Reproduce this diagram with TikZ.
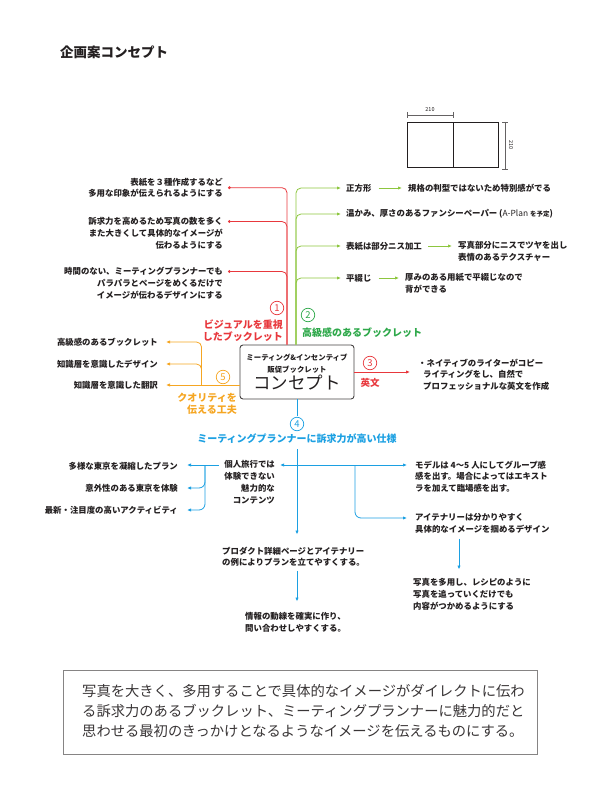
\documentclass[tikz,border=0pt]{standalone}
\usepackage{fontspec}
\setmainfont{Noto Sans CJK JP}
\usetikzlibrary{arrows.meta}
\definecolor{ink}{HTML}{231F20}
\definecolor{redc}{HTML}{E8383D}
\definecolor{greenc}{HTML}{8DC63F}
\definecolor{greent}{HTML}{2EA84A}
\definecolor{bluec}{HTML}{1CA0E2}
\definecolor{orangec}{HTML}{F5A623}
\newcommand{\itemfont}{\fontsize{8.4}{11.8}\selectfont\bfseries}
\newcommand{\labfont}{\fontsize{10}{12}\selectfont\bfseries}

\begin{document}
\begin{tikzpicture}[x=1pt, y=-1pt,
  item/.style={font=\itemfont, text=ink, inner sep=0pt},
  lab/.style={font=\labfont, inner sep=0pt},
  num/.style={circle, draw, line width=0.7pt, inner sep=0pt, minimum size=13.5pt, font=\fontsize{9.5}{9.5}\selectfont},
  conn/.style={line width=0.8pt, rounded corners=5pt},
  dotend/.style={conn, -{Circle[length=2.8pt]}},
  arrend/.style={conn, -{Latex[length=4pt, width=3.4pt]}}]
\useasboundingbox (0,0) rectangle (600,786);
\node[anchor=west, inner sep=0pt, text=ink, font=\fontsize{13.5}{14}\selectfont\bfseries] (title) at (60,52) {企画案コンセプト};

% format sketch
\draw[ink, line width=1pt] (407,123) rectangle (498,168) (453,123) -- (453,168);
\draw[ink!70, line width=0.4pt] (407,115) -- (453,115) (407,112) -- (407,118) (453,112) -- (453,118);
\draw[ink!70, line width=0.4pt] (505,122) -- (505,169) (502,122) -- (508,122) (502,169) -- (508,169);
\node[inner sep=0pt, text=ink, font=\fontsize{5.5}{6}\selectfont] (dimw) at (430,110) {210};
\node[inner sep=0pt, text=ink, rotate=-90, font=\fontsize{5.5}{6}\selectfont] (dimh) at (511,145) {210};

\node[draw=ink!85, line width=0.9pt, rounded corners=3pt, minimum width=114, minimum height=54, inner sep=0pt, align=center, text=ink] (box) at (297,372)
  {\fontsize{7.4}{10}\selectfont\bfseries ミーティング\&インセンティブ\\\fontsize{7.4}{10}\selectfont\bfseries 販促ブックレット\\[1pt]\fontsize{17.5}{20}\selectfont コンセプト};
\coordinate (rbase) at ([xshift=-10pt]box.north);
\coordinate (gbase) at ([xshift=-1pt]box.north);

% 1 visual
\node[item, anchor=north east, align=right] (r1) at (223,177.5) {表紙を３種作成するなど\\多用な印象が伝えられるようにする};
\node[item, anchor=north east, align=right] (r2) at (223,217) {訴求力を高めるため写真の数を多く\\また大きくして具体的なイメージが\\伝わるようにする};
\node[item, anchor=north east, align=right] (r3) at (223,267) {時間のない、ミーティングプランナーでも\\パラパラとページをめくるだけで\\イメージが伝わるデザインにする};
\draw[dotend, redc, shorten >=5pt] (rbase) |- (r1.east);
\draw[dotend, redc] (rbase) |- ([xshift=5pt, yshift=-4.5pt]r2.north east);
\draw[dotend, redc] (rbase) |- ([xshift=5pt, yshift=-4.5pt]r3.north east);
\node[num, redc] (n1) at (277,308) {1};
\node[lab, text=redc, anchor=north east, align=right] (lr) at (283,320) {ビジュアルを重視\\したブックレット};

% 2 quality paper
\node[item, anchor=west] (g1) at (346,188) {正方形};
\node[item, anchor=west] (g1b) at (408,188) {規格の判型ではないため特別感がでる};
\node[item, anchor=west] (g2) at (346,214) {温かみ、厚さのあるファンシーペーパー ({\mdseries A-Plan} {\fontsize{6.5}{8}\selectfont を予定})};
\node[item, anchor=west] (g3) at (346,246) {表紙は部分ニス加工};
\node[item, anchor=north west, align=left] (g3b) at (458,241.5) {写真部分にニスでツヤを出し\\表情のあるテクスチャー};
\node[item, anchor=west] (g4) at (346,278) {平綴じ};
\node[item, anchor=north west, align=left] (g4b) at (405,273.5) {厚みのある用紙で平綴じなので\\背ができる};
\foreach \g in {g1,g2,g3,g4}
  \draw[arrend, greenc, shorten >=5pt] (gbase) |- (\g.west);
\draw[arrend, greenc, shorten <=7pt, shorten >=6pt] (g1.east) -- (g1b.west);
\draw[arrend, greenc, shorten <=6pt, shorten >=6pt] (g3.east) -- (g3.east -| g3b.west);
\draw[arrend, greenc, shorten <=7pt, shorten >=6pt] (g4.east) -- (g4.east -| g4b.west);
\node[num, greent] (n2) at (308,315) {2};
\node[lab, text=greent, anchor=west] (lg) at (302,333) {高級感のあるブックレット};

% 3 english
\node[item, anchor=north west, align=left] (e3) at (418,358.5) {・ネイティブのライターがコピー\\\hspace{5pt}ライティングをし、自然で\\\hspace{5pt}プロフェッショナルな英文を作成};
\draw[arrend, redc, shorten >=8pt] (box.east) -- (box.east -| e3.west);
\node[num, redc] (n3) at (370,363) {3};
\node[lab, text=redc, font=\fontsize{9.5}{11}\selectfont\bfseries] (le) at (370,383) {英文};

% 5 quality
\node[item, anchor=east] (o1) at (158,342) {高級感のあるブックレット};
\node[item, anchor=east] (o2) at (158,364) {知識層を意識したデザイン};
\node[item, anchor=east] (o3) at (158,385) {知識層を意識した翻訳};
\coordinate (obase) at (box.west |- o3.east);
\coordinate (ojoin) at ([xshift=-38pt]obase);
\draw[arrend, orangec, shorten >=8pt] (obase) -- (o3.east);
\draw[arrend, orangec, shorten >=8pt] (ojoin) |- (o2.east);
\draw[arrend, orangec, shorten >=8pt] (ojoin) |- (o1.east);
\node[num, orangec] (n5) at (223,377) {5};
\node[lab, text=orangec, anchor=north east, align=right] (lo) at (237,393) {クオリティを\\伝える工夫};

% 4 planner
\node[num, bluec] (n4) at (297,424) {4};
\node[lab, text=bluec] (b0) at (297,439) {ミーティングプランナーに訴求力が高い仕様};
\draw[conn, bluec, shorten >=1pt] (box.south) -- (n4.north);
\coordinate (bj) at (297,465);
\coordinate (bk) at (355,465);
\coordinate (blj) at (205,465);
\node[item, anchor=north east, align=right] (b1) at (275,460.5) {個人旅行では\\体験できない\\魅力的な\\コンテンツ};
\node[item, anchor=east] (bl1) at (178,466) {多様な東京を凝縮したプラン};
\node[item, anchor=east] (bl2) at (178,488) {意外性のある東京を体験};
\node[item, anchor=east] (bl3) at (178,510) {最新・注目度の高いアクティビティ};
\node[item, anchor=north west, align=left] (b2) at (415,460.5) {モデルは 4〜5 人にしてグループ感\\感を出す。場合によってはエキスト\\ラを加えて臨場感を出す。};
\node[item, anchor=north west, align=left] (b3) at (415,513.5) {アイテナリーは分かりやすく\\具体的なイメージを掴めるデザイン};
\node[item, anchor=north west, align=left] (b4) at (413,578.5) {写真を多用し、レシピのように\\写真を追っていくだけでも\\内容がつかめるようにする};
\node[item, anchor=north west, align=left] (b5) at (222,546.5) {プロダクト詳細ページとアイテナリー\\の例によりプランを立てやすくする。};
\node[item, anchor=north west, align=left] (b6) at (245,612.5) {情報の動線を確実に作り、\\問い合わせしやすくする。};
\draw[arrend, bluec, shorten <=5pt, shorten >=12pt] (b0.south) -- (b5.north -| bj);
\draw[arrend, bluec, shorten >=5pt] (bj) -- (bj -| b1.east);
\draw[arrend, bluec, shorten >=8pt] (bj) -- (bj -| b2.west);
\draw[arrend, bluec, rounded corners=6pt, shorten >=8pt] (bk) |- ([yshift=-4.5pt]b3.north west);
\draw[arrend, bluec, shorten <=5pt, shorten >=9pt] (bj -| b1.west) -- (bj -| bl1.east);
\draw[arrend, bluec, rounded corners=6pt, shorten >=9pt] (blj) |- (bl2.east);
\draw[arrend, bluec, rounded corners=6pt, shorten >=9pt] (blj) |- (bl3.east);
\draw[arrend, bluec, shorten <=5pt, shorten >=9pt] ([xshift=44pt]b3.south west) -- ([xshift=46pt]b4.north west);
\draw[arrend, bluec, shorten <=4pt, shorten >=11pt] (b5.south -| bj) -- (b6.north -| bj);

% summary
\draw[ink!55, line width=0.8pt] (63,670) rectangle (537,754);
\node[inner sep=0pt, anchor=north west, align=left, text=ink!90, font=\fontsize{14.3}{20}\selectfont] (summary) at (82,684)
  {写真を大きく、多用することで具体的なイメージがダイレクトに伝わ\\る訴求力のあるブックレット、ミーティングプランナーに魅力的だと\\思わせる最初のきっかけとなるようなイメージを伝えるものにする。};
%\draw[help lines] (0,0) grid[step=50] (600,786);
\end{tikzpicture}
\end{document}
